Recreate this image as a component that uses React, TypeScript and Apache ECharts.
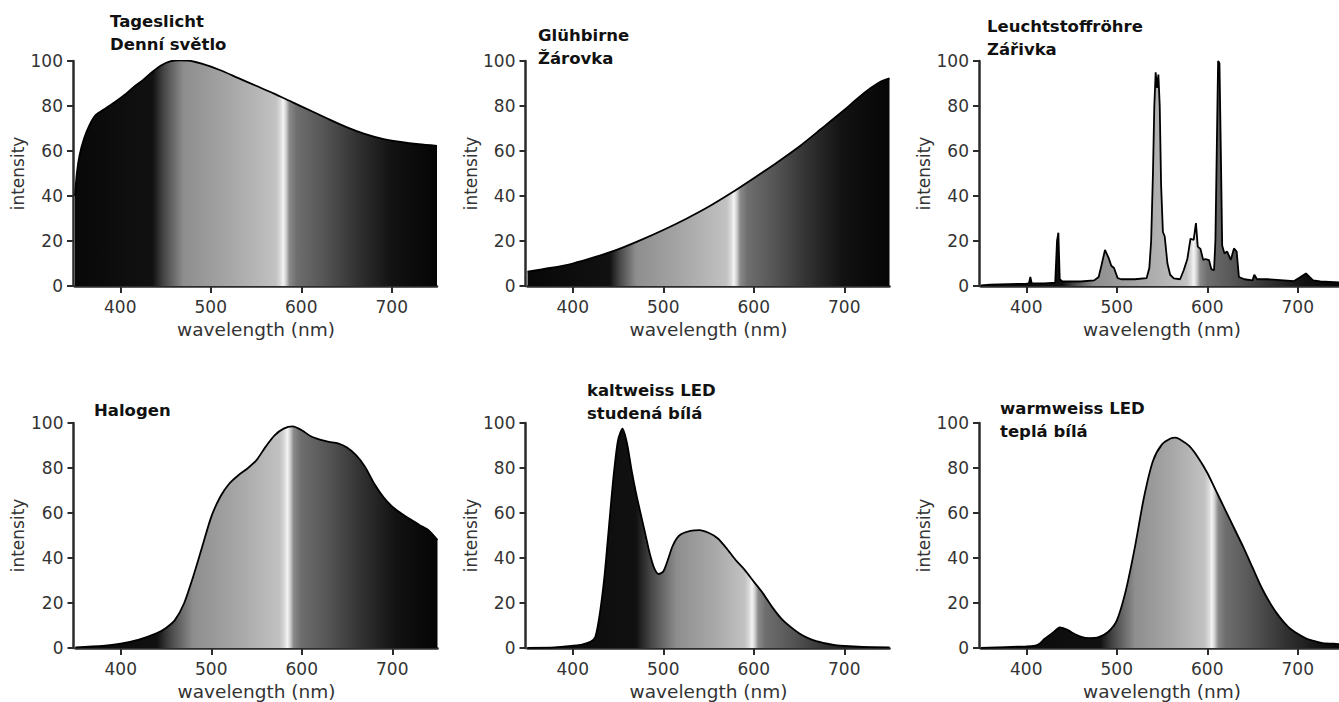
import React, { useEffect, useRef } from 'react';
import * as echarts from 'echarts';

// ---------- data ----------
const xTicks = [400, 500, 600, 700];

const daylightNm = [350, 352, 355, 360, 366, 373, 384, 395, 405, 415, 425, 435, 445, 455, 465, 475, 490, 510, 530, 550, 570, 590, 610, 630, 650, 670, 690, 710, 730, 750];
const daylightI = [40, 50, 58, 65.5, 71.5, 76, 79, 82, 85, 88.5, 91.5, 95, 98, 99.8, 100.3, 100.2, 98.8, 96, 92.5, 89, 85.5, 81.7, 78, 74.2, 70.6, 67.6, 65.4, 64, 63, 62.3];

const bulbNm = [350, 375, 400, 425, 450, 475, 500, 525, 550, 575, 600, 625, 650, 675, 700, 715, 730, 740, 750];
const bulbI = [6.4, 8, 10, 12.9, 16.3, 20.4, 24.9, 29.8, 35.2, 41.3, 47.9, 54.7, 61.9, 70, 78.2, 83.5, 88.2, 90.8, 92.3];

const fluorNm = [350, 360, 380, 400, 403, 404.5, 406, 420, 432, 434, 435.5, 437, 440, 460, 475, 480, 483, 487, 491, 494, 497, 501, 505, 520, 533, 536, 538, 540, 541.5, 543, 544.5, 546, 547.5, 549, 551, 553, 556, 559, 563, 570, 574, 578, 581.5, 585, 587.5, 589.5, 592.5, 595.5, 598, 602, 604.5, 607.5, 609, 610.5, 612, 613.5, 615, 616.5, 619, 622, 626, 629.5, 632.5, 635, 641, 650, 652, 655, 667, 696, 703, 709, 713, 717, 725, 750];
const fluorI = [0.3, 0.6, 0.8, 1.0, 1.2, 4, 1.2, 1.2, 1.5, 20, 23.7, 3, 2, 2, 2.5, 4, 9, 16, 12.5, 9, 8, 3.5, 3, 3, 3.5, 8, 20, 50, 80, 95, 88, 94, 80, 45, 24, 22, 10, 5, 3.4, 3, 7, 12, 21, 20.5, 28, 17.5, 16.5, 11.6, 12, 11.5, 7.5, 7, 20, 60, 100, 99, 60, 18, 14.5, 15.3, 11.6, 16.7, 15.3, 4, 3, 2.5, 5, 3, 3, 2.2, 4, 5.6, 4, 2.5, 2, 1.5];

const halogenNm = [350, 380, 400, 420, 440, 450, 460, 470, 480, 490, 500, 510, 520, 530, 540, 550, 560, 570, 580, 590, 600, 610, 620, 630, 640, 650, 660, 670, 680, 690, 700, 710, 720, 730, 740, 750];
const halogenI = [0.3, 0.9, 1.9, 3.7, 6.6, 8.9, 12.5, 19.9, 31.7, 45, 58.3, 67.2, 73.1, 76.8, 79.8, 83.5, 89.4, 94.5, 97.5, 98.5, 96.8, 94.1, 92.6, 91.6, 90.9, 89.1, 85.7, 80.5, 73.1, 67.2, 62.8, 59.8, 57.2, 54.7, 52.4, 48];

const coolNm = [350, 380, 400, 410, 420, 425, 430, 435, 440, 445, 450, 455, 460, 465, 470, 475, 480, 485, 490, 495, 500, 505, 510, 515, 520, 530, 540, 550, 560, 570, 580, 590, 600, 610, 620, 630, 640, 650, 660, 670, 680, 690, 700, 720, 750];
const coolI = [0.1, 0.3, 1.0, 1.5, 2.9, 5, 15.5, 31.7, 53.9, 76, 92.3, 97.5, 90.9, 79, 68.7, 59.8, 51, 42.1, 35.5, 32.9, 34, 39.1, 45, 48.8, 50.7, 52.1, 52.4, 51.2, 48.8, 44.3, 39.1, 34.7, 29.5, 24.4, 18.4, 13.3, 9.6, 6.6, 4.4, 2.9, 2.0, 1.3, 0.9, 0.5, 0.3];

const warmNm = [350, 400, 410, 415, 420, 430, 437, 445, 450, 460, 470, 480, 490, 500, 510, 520, 530, 540, 550, 560, 565, 570, 580, 590, 600, 610, 620, 630, 640, 650, 660, 670, 680, 690, 700, 710, 720, 730, 740, 750];
const warmI = [0.1, 0.7, 1.1, 2, 4, 7, 9.2, 8.2, 7, 5.1, 4.4, 4.8, 7, 12.2, 25.5, 44.7, 66.8, 83.1, 90.5, 93.2, 93.5, 92.7, 89.8, 84.6, 77.9, 69.6, 61.3, 53, 44.7, 35.8, 26.9, 19.6, 13.7, 9.2, 6.3, 4.1, 2.9, 2.0, 1.9, 1.5];

const titles = [
  'Tageslicht\nDenní světlo',
  'Glühbirne\nŽárovka',
  'Leuchtstoffröhre\nZářivka',
  'Halogen',
  'kaltweiss LED\nstudená bílá',
  'warmweiss LED\nteplá bílá',
];

// ---------- styling / layout ----------
const FONT = '"DejaVu Sans", sans-serif';
const AXIS = '#2b2b2b';

const layout = [
  { left: 75, top: 61, tx: 110, ty: 10, gapY: 44, grad: [436, 470, 580], smooth: true, nm: daylightNm, val: daylightI },
  { left: 527.5, top: 61, tx: 538, ty: 23.5, gapY: 43, grad: [441, 470, 578], smooth: true, nm: bulbNm, val: bulbI },
  { left: 981, top: 61, tx: 987, ty: 14.5, gapY: 38, grad: [440, 475, 585], smooth: false, nm: fluorNm, val: fluorI },
  { left: 75.5, top: 423, tx: 94, ty: 398.5, gapY: 47, grad: [440, 480, 584], smooth: true, nm: halogenNm, val: halogenI },
  { left: 527.5, top: 423, tx: 587, ty: 379, gapY: 43, grad: [470, 515, 598], smooth: true, nm: coolNm, val: coolI },
  { left: 981, top: 423, tx: 1000, ty: 397, gapY: 43, grad: [482, 520, 605], smooth: true, nm: warmNm, val: warmI },
];

function zip(a: number[], b: number[]) {
  return a.map((x, i) => [x, b[i]]);
}

function spectrumFill(d: number, g: number, b: number) {
  const pts: [number, string][] = [
    [350, '#080808'],
    [d, '#111111'],
    [d + (g - d) * 0.35, '#454545'],
    [g, '#8e8e8e'],
    [(g + b) / 2, '#a8a8a8'],
    [b - 8, '#c2c2c2'],
    [b - 3, '#dadada'],
    [b, '#f4f4f4'],
    [b + 3, '#d2d2d2'],
    [b + 7, '#8a8a8a'],
    [b + 15, '#6e6e6e'],
    [b + 45, '#555555'],
    [b + 80, '#333333'],
    [b + 120, '#121212'],
    [750, '#050505'],
  ];
  return {
    type: 'linear', x: 0, y: 0, x2: 1, y2: 0,
    colorStops: pts
      .filter((p) => p[0] >= 350 && p[0] <= 750)
      .map(([nm, c]) => ({ offset: (nm - 350) / 400, color: c })),
  };
}

export default function App() {
  const ref = useRef<HTMLDivElement>(null);

  useEffect(() => {
    document.body.style.margin = '0';
    const chart = echarts.init(ref.current as HTMLDivElement, undefined, { renderer: 'svg' });
    const option: any = {
      animation: false,
      backgroundColor: '#ffffff',
      title: layout.map((p, i) => ({
        text: titles[i],
        left: p.tx,
        top: p.ty,
        padding: 0,
        textStyle: { fontFamily: FONT, fontWeight: 'bold', fontSize: 16.5, lineHeight: 23, color: '#111' },
      })),
      grid: layout.map((p) => ({
        left: p.left, top: p.top, width: 362, height: 225, containLabel: false, outerBoundsMode: 'none',
      })),
      xAxis: layout.map((p, i) => ({
        gridIndex: i,
        type: 'value',
        min: 350,
        max: 750,
        axisLine: { show: true, onZero: false, lineStyle: { color: AXIS, width: 2.5 } },
        axisTick: { show: true, length: 7, customValues: xTicks, lineStyle: { color: AXIS, width: 2 } },
        axisLabel: { customValues: xTicks, margin: 12, fontSize: 17, color: '#333', fontFamily: FONT },
        splitLine: { show: false },
        name: 'wavelength (nm)',
        nameLocation: 'middle',
        nameGap: 34,
        nameTextStyle: { fontSize: 18.5, color: '#333', fontFamily: FONT },
      })),
      yAxis: layout.map((p, i) => ({
        gridIndex: i,
        type: 'value',
        min: 0,
        max: 100,
        interval: 20,
        offset: 2,
        axisLine: { show: true, lineStyle: { color: AXIS, width: 2.5 } },
        axisTick: { show: true, length: 6, lineStyle: { color: AXIS, width: 2 } },
        axisLabel: { margin: 10, fontSize: 17, color: '#333', fontFamily: FONT },
        splitLine: { show: false },
        name: 'intensity',
        nameLocation: 'middle',
        nameGap: p.gapY,
        nameTextStyle: { fontSize: 17, color: '#333', fontFamily: FONT },
      })),
      series: layout.map((p, i) => ({
        type: 'line',
        xAxisIndex: i,
        yAxisIndex: i,
        data: zip(p.nm, p.val),
        smooth: p.smooth ? 0.25 : false,
        showSymbol: false,
        symbol: 'none',
        lineStyle: { color: '#000', width: 1.8 },
        areaStyle: { color: spectrumFill(p.grad[0], p.grad[1], p.grad[2]), opacity: 1 },
        z: 1,
      })),
    };
    chart.setOption(option);
    return () => chart.dispose();
  }, []);

  return (
    <div
      ref={ref}
      style={{ position: 'absolute', left: 0, top: 0, width: 1339, height: 702, background: '#fff' }}
    />
  );
}
